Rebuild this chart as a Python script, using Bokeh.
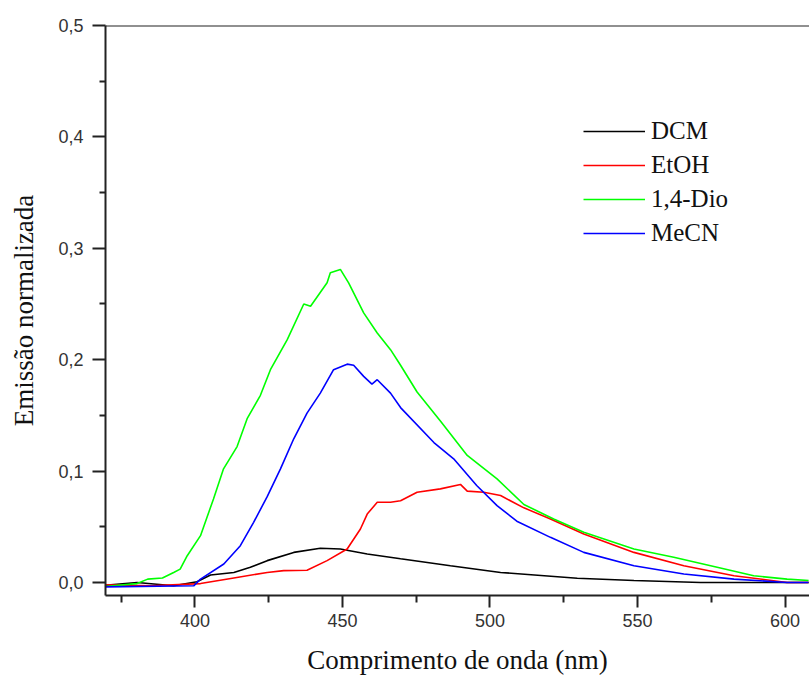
from bokeh.plotting import figure
from bokeh.models import Range1d, FixedTicker, Span, Legend, LegendItem
from bokeh.embed import file_html
from bokeh.resources import INLINE

# DCM
dcm_x = [368, 380.4, 392.8, 400.7, 405.3, 413.2, 418.8, 424.5, 433.5, 442.5, 449.3, 458.4, 469.7, 486.6, 503.6, 529.6, 548.8, 571.4, 608]
dcm_y = [-0.003, 0.0, -0.003, 0.0007, 0.0067, 0.009, 0.0136, 0.0196, 0.027, 0.0307, 0.030, 0.0256, 0.0213, 0.015, 0.009, 0.0038, 0.0017, 0.0, 0.0]
# EtOH
etoh_x = [368, 385, 401.9, 413.2, 424.5, 430.1, 438, 444.8, 451.6, 456.1, 458.4, 461.8, 466.3, 469.7, 475.3, 483.2, 490, 492.3, 497.9, 503.6, 511.5, 520.5, 531.8, 548.8, 565.7, 582.7, 600.7, 608]
etoh_y = [-0.002, -0.003, -0.001, 0.004, 0.009, 0.0106, 0.011, 0.0196, 0.030, 0.048, 0.0614, 0.072, 0.072, 0.0733, 0.081, 0.084, 0.088, 0.082, 0.081, 0.078, 0.067, 0.057, 0.0435, 0.027, 0.015, 0.006, 0.0, 0.0]
# 1,4-Dio
dio_x = [368, 380.4, 384, 389, 392.8, 395, 397.4, 401.9, 406.3, 409.7, 414.3, 417.7, 422.2, 425.6, 431.3, 436.9, 439.2, 444.8, 445.9, 449.3, 452.1, 457.2, 461.8, 466.3, 469.7, 475.3, 483.2, 492.3, 502.4, 511.5, 521.6, 531.8, 548.8, 562.3, 577, 589.4, 600.7, 608]
dio_y = [-0.004, -0.001, 0.003, 0.004, 0.009, 0.012, 0.024, 0.042, 0.075, 0.102, 0.122, 0.147, 0.168, 0.191, 0.218, 0.250, 0.248, 0.269, 0.278, 0.281, 0.269, 0.242, 0.224, 0.209, 0.195, 0.171, 0.145, 0.114, 0.093, 0.070, 0.057, 0.045, 0.030, 0.0226, 0.0137, 0.006, 0.003, 0.0017]
# MeCN
mecn_x = [368, 399.6, 401.9, 409.8, 415.4, 419.9, 424.5, 429, 433.5, 438, 442.5, 447, 451.6, 453.8, 457.2, 460, 461.8, 466.3, 469.7, 481, 487.7, 495.5, 502.4, 509.1, 520.5, 531.8, 548.8, 565.7, 582.7, 600.7, 608]
mecn_y = [-0.004, -0.003, 0.003, 0.0166, 0.033, 0.054, 0.077, 0.102, 0.129, 0.152, 0.170, 0.191, 0.196, 0.195, 0.185, 0.178, 0.182, 0.170, 0.157, 0.1256, 0.111, 0.087, 0.069, 0.055, 0.0405, 0.027, 0.015, 0.0076, 0.003, 0.0, 0.0]

series_names = ["DCM", "EtOH", "1,4-Dio", "MeCN"]
series_colors = ["#000000", "#ff0000", "#00ff00", "#0000ff"]

x_ticks = [400, 450, 500, 550, 600]
y_ticks = [0.0, 0.1, 0.2, 0.3, 0.4, 0.5]
y_tick_labels = ["0,0", "0,1", "0,2", "0,3", "0,4", "0,5"]

p = figure(width=809, height=680, output_backend="svg", toolbar_location=None,
           x_range=Range1d(369.7, 608.3), y_range=Range1d(-0.0117, 0.5),
           min_border_left=105, min_border_right=0, min_border_top=25, min_border_bottom=85)
p.outline_line_color = None
p.grid.visible = False
p.background_fill_color = "white"

renderers = []
for xs, ys, c in zip([dcm_x, etoh_x, dio_x, mecn_x], [dcm_y, etoh_y, dio_y, mecn_y], series_colors):
    r = p.line(xs, ys, line_color=c, line_width=1.6)
    renderers.append(r)

p.add_layout(Span(location=0.5, dimension="width", line_color="#222222", line_width=2))

xa = p.xaxis[0]
xa.ticker = FixedTicker(ticks=x_ticks, minor_ticks=[375, 425, 475, 525, 575, 625])
ya = p.yaxis[0]
ya.ticker = FixedTicker(ticks=y_ticks, minor_ticks=[0.05, 0.15, 0.25, 0.35, 0.45])
ya.major_label_overrides = {t: l for t, l in zip(y_ticks, y_tick_labels)}

for ax in (xa, ya):
    ax.axis_line_width = 2
    ax.axis_line_color = "#222222"
    ax.major_tick_line_width = 2
    ax.minor_tick_line_width = 2
    ax.major_tick_line_color = "#222222"
    ax.minor_tick_line_color = "#222222"
    ax.major_tick_in = 0
    ax.minor_tick_in = 0
    ax.major_label_text_font = "Liberation Sans"
    ax.major_label_text_font_size = "18px"
    ax.major_label_text_color = "#333333"
    ax.axis_label_text_font = "Liberation Serif"
    ax.axis_label_text_font_size = "27px"
    ax.axis_label_text_font_style = "normal"
    ax.axis_label_text_color = "#111111"

xa.major_tick_out = 12
xa.minor_tick_out = 7
xa.major_label_standoff = 6
xa.axis_label = "Comprimento de onda (nm)"
xa.axis_label_standoff = 15

ya.major_tick_out = 13
ya.minor_tick_out = 6
ya.major_label_standoff = 9
ya.axis_label = "Emissão normalizada"
ya.axis_label_standoff = 16

legend = Legend(items=[LegendItem(label=n, renderers=[r]) for n, r in zip(series_names, renderers)],
                location=(478, 347), padding=0, spacing=4, glyph_width=62, glyph_height=30,
                label_height=30, label_standoff=6,
                label_text_font="Liberation Serif", label_text_font_size="25px",
                label_text_color="#111111",
                border_line_color=None, background_fill_alpha=0)
p.add_layout(legend)

open("out.html", "w").write(file_html(p, INLINE))
